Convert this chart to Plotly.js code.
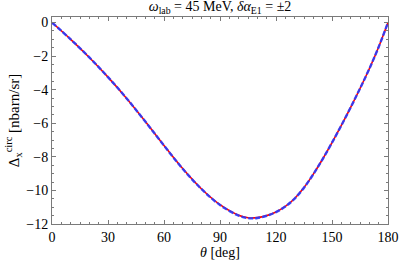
<!DOCTYPE html>
<html>
<head>
<meta charset="utf-8">
<script src="https://cdn.plot.ly/plotly-3.0.1.min.js"></script>
<style>html,body{margin:0;padding:0;background:#fff;}#chart{width:399px;height:260px;}</style>
</head>
<body>
<div id="chart"></div>
<script>
// theta [deg]
const theta = [0, 10, 20, 30, 40, 50, 60, 70, 80, 90, 100, 105, 110, 115, 120, 125, 130, 135, 140, 145, 150, 155, 160, 165, 170, 175, 180];
// delta alpha_E1 = +2 (red, solid)
const deltaPlus = [0, -1.0, -2.08, -3.25, -4.52, -5.89, -7.32, -8.70, -9.90, -10.85, -11.48, -11.63, -11.62, -11.50, -11.28, -10.955, -10.48, -9.83, -9.03, -8.13, -7.155, -6.13, -5.055, -3.93, -2.755, -1.455, 0];
// delta alpha_E1 = -2 (blue, dashed)
const deltaMinus = [0, -1.0, -2.08, -3.25, -4.52, -5.90, -7.33, -8.71, -9.91, -10.87, -11.50, -11.65, -11.64, -11.51, -11.29, -10.96, -10.485, -9.835, -9.035, -8.13, -7.155, -6.13, -5.055, -3.93, -2.755, -1.455, 0];

const xTicks = [0, 30, 60, 90, 120, 150, 180];
const yTicks = [-12, -10, -8, -6, -4, -2, 0];

const font = {family: '"Liberation Serif", "DejaVu Serif", serif', size: 14, color: '#000'};

const traces = [
  {x: theta, y: deltaPlus, type: 'scatter', mode: 'lines',
   line: {color: '#ff0000', width: 1.6, shape: 'spline', smoothing: 1}, hoverinfo: 'skip'},
  {x: theta, y: deltaMinus, type: 'scatter', mode: 'lines',
   line: {color: 'rgba(40,60,255,0.9)', width: 2.4, dash: '5px,2px', shape: 'spline', smoothing: 1}, hoverinfo: 'skip'}
];

const axisCommon = {
  showline: true, linecolor: '#7a7a7a', linewidth: 1, mirror: 'allticks',
  ticks: 'inside', ticklen: 4, tickwidth: 1, tickcolor: '#7a7a7a',
  showgrid: false, zeroline: false, tickfont: font
};

const layout = {
  width: 399, height: 260,
  margin: {l: 52, r: 11, t: 17, b: 36},
  paper_bgcolor: '#fff', plot_bgcolor: '#fff',
  showlegend: false,
  font: font,
  title: {text: '<i>ω</i><sub>lab</sub> = 45 MeV, <i>δα</i><sub>E1</sub> = ±2',
          font: {family: font.family, size: 14, color: '#000'},
          x: 0.5515, xanchor: 'center', y: 0.995, yanchor: 'top'},
  xaxis: Object.assign({}, axisCommon, {
    range: [0, 180], tickmode: 'array', tickvals: xTicks, ticktext: xTicks.map(String),
    minor: {dtick: 5, ticklen: 2, tickcolor: '#7a7a7a', ticks: 'inside'},
    title: {text: '<i>θ</i> [deg]', font: {family: font.family, size: 14, color: '#000'}, standoff: 2}
  }),
  yaxis: Object.assign({}, axisCommon, {
    range: [-12, 0.33], tickmode: 'array', tickvals: yTicks,
    ticktext: yTicks.map(v => v < 0 ? '\u2212' + Math.abs(v) : String(v)),
    minor: {dtick: 0.5, ticklen: 2, tickcolor: '#7a7a7a', ticks: 'inside'},
    title: {text: 'Δ<sub>x</sub><sup>circ</sup> [nbarn/sr]', font: {family: font.family, size: 15, color: '#000'}, standoff: 3}
  })
};

Plotly.newPlot('chart', traces, layout, {displayModeBar: false, staticPlot: true});
</script>
</body>
</html>
